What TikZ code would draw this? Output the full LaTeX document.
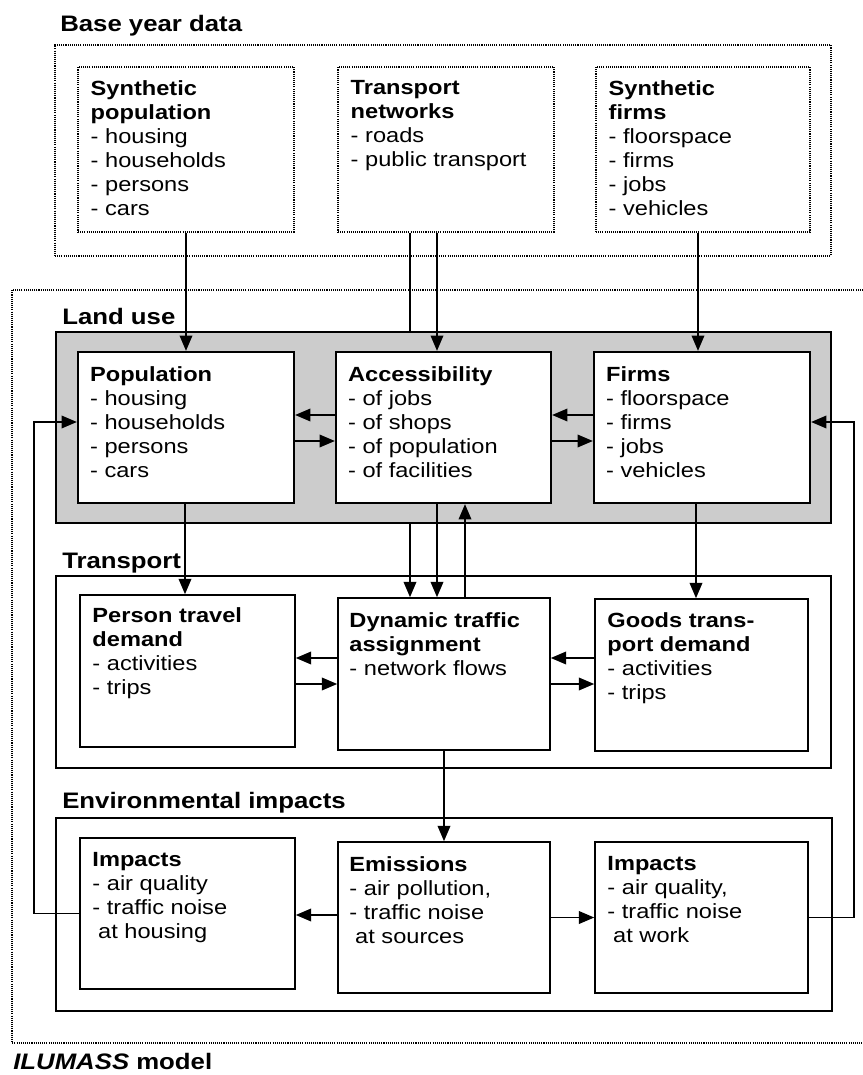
\documentclass[tikz,border=0pt]{standalone}
\usepackage{fontspec}
\setmainfont[FakeStretch=1.15]{Liberation Sans}
\usetikzlibrary{arrows.meta,positioning,calc,fit}

\tikzset{
  dotbox/.style={draw, line width=0.8pt, dash pattern=on 0.8pt off 0.8pt, inner sep=0pt},
  frame/.style={draw, line width=1.2pt, inner sep=0pt},
  lubox/.style={draw, line width=1.7pt, fill=white, inner sep=0pt},
  modbox/.style={draw, line width=1.2pt, fill=white, inner sep=0pt},
  boxtext/.style={anchor=north west, inner sep=0pt, align=left, font=\fontsize{15.4}{18}\selectfont},
  grouptitle/.style={anchor=base west, inner sep=0pt, font=\fontsize{16.8}{20}\selectfont\bfseries},
  arr/.style={line width=1.15pt, -{Triangle[length=11.5pt,width=9.5pt]}},
  link/.style={line width=1.15pt}
}

\begin{document}
\begin{tikzpicture}[x=0.75pt,y=-0.75pt]
\useasboundingbox (0,0) rectangle (863,1075);

\draw[dotbox] (863,290) -- (12,290) -- (12,1043) -- (863,1043);
\node[grouptitle] (ilumass) at (13,1069) {\textit{ILUMASS} model};

\node[dotbox, fit={(55,45) (831,256)}] (base) {};
\node[grouptitle] (basetitle) at (60,31) {Base year data};
\node[dotbox, fit={(78,67) (294,232)}] (synpop) {};
\node[dotbox, fit={(338,67) (554,232)}] (tnet) {};
\node[dotbox, fit={(596,67) (810,232)}] (synfirm) {};
\node[boxtext] (synpoptxt) at ([shift={(13,14)}]synpop.north west)
  {\textbf{Synthetic}\\\textbf{population}\\- housing\\- households\\- persons\\- cars};
\node[boxtext] (tnettxt) at ([shift={(13,14)}]tnet.north west)
  {\textbf{Transport}\\\textbf{networks}\\- roads\\- public transport};
\node[boxtext] (synfirmtxt) at ([shift={(13,14)}]synfirm.north west)
  {\textbf{Synthetic}\\\textbf{firms}\\- floorspace\\- firms\\- jobs\\- vehicles};

\node[modbox, fit={(338,598) (550,750)}] (dta) {};
\draw[arr] ([shift={(-36,0)}]tnet.south) -- ([shift={(-36,0)}]tnet.south |- dta.north);

\node[grouptitle] (lutitle) at (62,324) {Land use};
\node[lubox, fill=gray!40, fit={(56,332) (831,523)}] (landuse) {};
\node[lubox, fit={(78,352) (294,503)}] (pop) {};
\node[lubox, fit={(336,352) (551,503)}] (acc) {};
\node[lubox, fit={(594,352) (810,503)}] (firm) {};
\node[boxtext] (poptxt) at ([shift={(13,15)}]pop.north west)
  {\textbf{Population}\\- housing\\- households\\- persons\\- cars};
\node[boxtext] (acctxt) at ([shift={(13,15)}]acc.north west)
  {\textbf{Accessibility}\\- of jobs\\- of shops\\- of population\\- of facilities};
\node[boxtext] (firmtxt) at ([shift={(13,15)}]firm.north west)
  {\textbf{Firms}\\- floorspace\\- firms\\- jobs\\- vehicles};

\node[grouptitle] (trtitle) at (62,568) {Transport};
\node[frame, fit={(56,576) (831,768)}] (transport) {};
\node[modbox, fit={(80,595) (295,747)}] (ptd) {};
\node[modbox, fit={(338,598) (550,750)}] (dta) {};
\node[modbox, fit={(595,599) (808,751)}] (gtd) {};
\node[boxtext] (ptdtxt) at ([shift={(13,13)}]ptd.north west)
  {\textbf{Person travel}\\\textbf{demand}\\- activities\\- trips};
\node[boxtext] (dtatxt) at ([shift={(12,15)}]dta.north west)
  {\textbf{Dynamic traffic}\\\textbf{assignment}\\- network flows};
\node[boxtext] (gtdtxt) at ([shift={(13,14)}]gtd.north west)
  {\textbf{Goods trans-}\\\textbf{port demand}\\- activities\\- trips};

\node[grouptitle] (envtitle) at (62,808) {Environmental impacts};
\node[frame, fit={(56,818) (832,1011)}] (env) {};
\node[modbox, fit={(80,838) (295,989)}] (impl) {};
\node[modbox, fit={(338,842) (550,993)}] (emis) {};
\node[modbox, fit={(595,842) (808,993)}] (impr) {};
\node[boxtext] (impltxt) at ([shift={(13,15)}]impl.north west)
  {\textbf{Impacts}\\- air quality\\- traffic noise\\\hspace*{.28em}at housing};
\node[boxtext] (emistxt) at ([shift={(12,15)}]emis.north west)
  {\textbf{Emissions}\\- air pollution,\\- traffic noise\\\hspace*{.28em}at sources};
\node[boxtext] (imprtxt) at ([shift={(13,15)}]impr.north west)
  {\textbf{Impacts}\\- air quality,\\- traffic noise\\\hspace*{.28em}at work};

\draw[arr] (synpop.south) -- (synpop.south |- pop.north);
\draw[arr] ([shift={(-9,0)}]tnet.south) -- ([shift={(-9,0)}]tnet.south |- acc.north);
\draw[arr] ([shift={(-5,0)}]synfirm.south) -- ([shift={(-5,0)}]synfirm.south |- firm.north);

\draw[arr] ([shift={(0,-12.5)}]acc.west) -- ([shift={(0,-12.5)}]acc.west -| pop.east);
\draw[arr] ([shift={(0,13.5)}]pop.east) -- ([shift={(0,13.5)}]pop.east -| acc.west);
\draw[arr] ([shift={(0,-12.5)}]firm.west) -- ([shift={(0,-12.5)}]firm.west -| acc.east);
\draw[arr] ([shift={(0,13.5)}]acc.east) -- ([shift={(0,13.5)}]acc.east -| firm.west);

\draw[arr] ([shift={(-1,0)}]pop.south) -- ([shift={(-1,0)}]pop.south |- ptd.north);
\draw[arr] ([shift={(-6.5,0)}]acc.south) -- ([shift={(-6.5,0)}]acc.south |- dta.north);
\draw[arr] ([shift={(21,0)}]dta.north) -- ([shift={(21,0)}]dta.north |- acc.south);
\draw[arr] ([shift={(-6,0)}]firm.south) -- ([shift={(-6,0)}]firm.south |- gtd.north);

\draw[arr] ([shift={(0,-16)}]dta.west) -- ([shift={(0,-16)}]dta.west -| ptd.east);
\draw[arr] ([shift={(0,10)}]ptd.east |- dta.west) -- ([shift={(0,10)}]dta.west);
\draw[arr] ([shift={(0,-16)}]gtd.west |- dta.east) -- ([shift={(0,-16)}]dta.east);
\draw[arr] ([shift={(0,10)}]dta.east) -- ([shift={(0,10)}]dta.east -| gtd.west);

\draw[arr] (dta.south) -- (dta.south |- emis.north);
\draw[arr] ([shift={(0,-2.5)}]emis.west) -- ([shift={(0,-2.5)}]emis.west -| impl.east);
\draw[arr] (emis.east) -- (emis.east -| impr.west);

\draw[arr] (impl.west) -- ++(-45,0) |- ([shift={(0,-5.5)}]pop.west);
\draw[arr] (impr.east) -- ++(45,0) |- ([shift={(0,-5.5)}]firm.east);
\end{tikzpicture}
\end{document}
